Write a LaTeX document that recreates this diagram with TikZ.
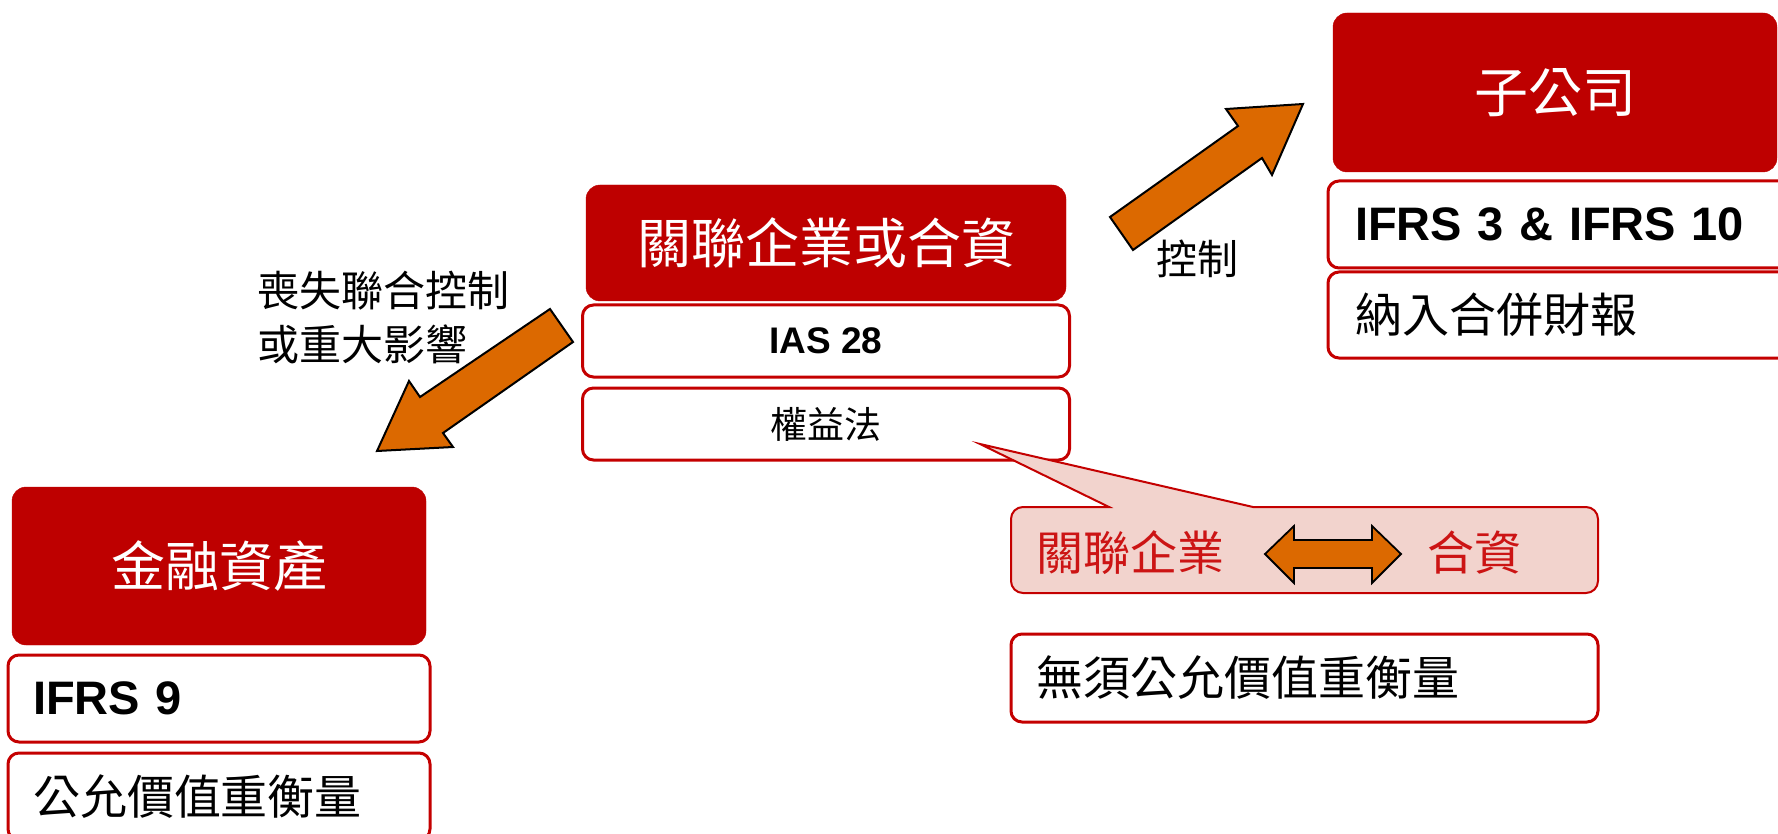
\documentclass[tikz,border=0pt]{standalone}
\usepackage{fontspec}
\newfontfamily\cjk{Noto Sans CJK TC}
\newfontfamily\arial{Liberation Sans}
\definecolor{boxred}{RGB}{190,0,0}
\definecolor{lineRed}{RGB}{196,0,0}
\definecolor{calloutfill}{RGB}{242,211,205}
\definecolor{callouttext}{RGB}{204,20,20}
\definecolor{arroworange}{RGB}{220,105,0}
\begin{document}
\begin{tikzpicture}[x=1pt,y=-1pt,
  redbox/.style={fill=boxred, draw=boxred, rounded corners=14, inner sep=0, outer sep=0,
    text=white, font=\cjk\fontsize{54}{60}\selectfont},
  whitebox/.style={draw=lineRed, line width=3, fill=white, rounded corners=11, inner sep=0, outer sep=0},
  boldtxt/.style={font=\arial\bfseries\fontsize{47}{54}\selectfont},
  cjktxt/.style={font=\cjk\fontsize{47}{54}\selectfont},
  leftbox/.style={whitebox, align=left, inner xsep=#1},
  blockarrow/.style={fill=arroworange, draw=black, line width=2, line join=miter},
  calloutshape/.style={fill=calloutfill, draw=lineRed, line width=2},
  labeltxt/.style={font=\cjk\fontsize{42}{54}\selectfont, inner sep=0}
]
\useasboundingbox (0,0) rectangle (1778,834);
\clip (0,0) rectangle (1778,834);

% central group
\node[redbox, minimum width=480, minimum height=116] (jv) at (826,243) {關聯企業或合資};
\node[whitebox, minimum width=487, minimum height=72, font=\arial\bfseries\fontsize{37}{44}\selectfont] (ias) at (826,341) {IAS 28};
\node[whitebox, minimum width=487, minimum height=72, font=\cjk\fontsize{37}{44}\selectfont] (eq) at (826,424) {權益法};

% subsidiary group
\node[redbox, minimum width=444, minimum height=159] (sub) at (1555,92.5) {子公司};
\node[leftbox=27, text width=418, minimum height=87, boldtxt] (ifrs310) at (1564,224.5) {IFRS 3 \& IFRS 10};
\node[leftbox=27, text width=418, minimum height=86, cjktxt] (cons) at (1564,315) {納入合併財報};

% financial asset group
\node[redbox, minimum width=414, minimum height=158] (fa) at (219,566) {金融資產};
\node[leftbox=25, text width=372, minimum height=87, boldtxt] (ifrs9) at (219,698.5) {IFRS 9};
\node[leftbox=25, text width=372, minimum height=87, cjktxt] (fv) at (219,796.5) {公允價值重衡量};

% no remeasurement
\node[leftbox=25, text width=537, minimum height=88, cjktxt] (nofv) at (1304.5,678) {無須公允價值重衡量};

% callout
\draw[calloutshape] (1109,507) -- (980,444) -- (1253,507) [rounded corners=12] -- (1598,507) -- (1598,593) -- (1011,593) -- (1011,507) [sharp corners] -- cycle;
\node[cjktxt, text=callouttext, inner sep=0] (assoc) at (1130,553) {關聯企業};
\node[cjktxt, text=callouttext, inner sep=0] (jvt) at (1474,553) {合資};
\draw[blockarrow, line width=1.8] (1265,554) -- (1294,526) -- (1294,540) -- (1372,540) -- (1372,526)
  -- (1401,554) -- (1372,583) -- (1372,568) -- (1294,568) -- (1294,583) -- cycle;

% arrow to subsidiary
\draw[blockarrow] (1110,217) -- (1238,126) -- (1226,109) -- (1303,104) -- (1272,175) -- (1262,158) -- (1133,250) -- cycle;
\node[labeltxt, font=\cjk\fontsize{41}{50}\selectfont] (ctrl) at (1197,259) {控制};

% arrow to financial asset
\draw[blockarrow] (550,309) -- (420,397) -- (409,381) -- (377,451) -- (453,447) -- (443,433) -- (573,342) -- cycle;
\node[labeltxt, anchor=west, align=left] (loss) at (257,317.5) {喪失聯合控制\\或重大影響};
\end{tikzpicture}
\end{document}
